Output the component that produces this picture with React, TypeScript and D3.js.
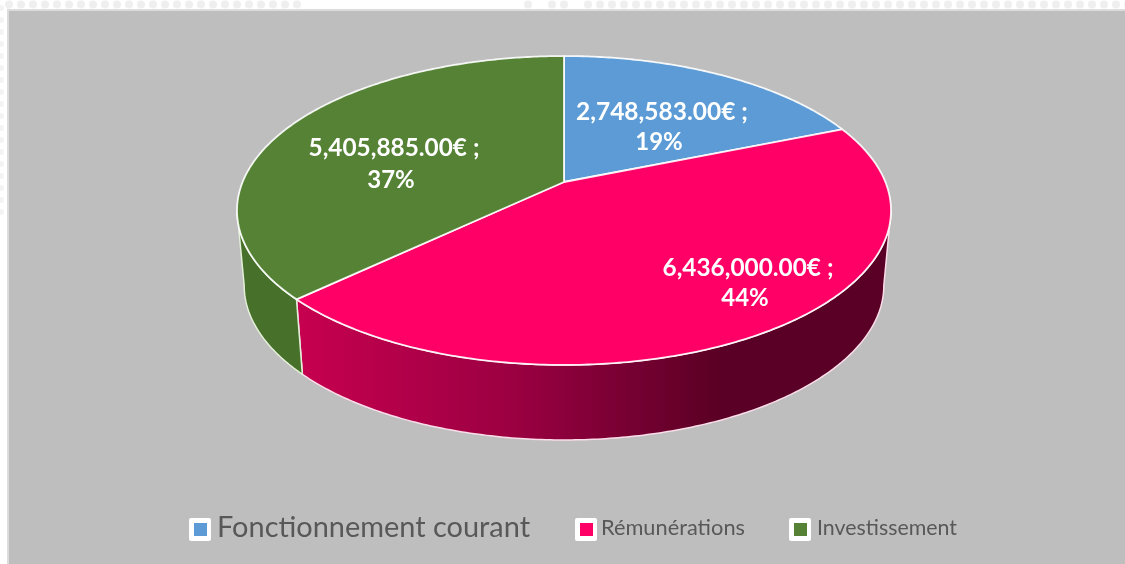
import React from "react";
import * as d3 from "d3";

const categories = ["Fonctionnement courant", "Rémunérations", "Investissement"];
const values = [2748583, 6436000, 5405885];
const percentLabels = ["19%", "44%", "37%"];
const colors = ["#5b9bd5", "#ff0066", "#548235"];
const legendText = [
  { x: 217, w: 313, size: 28, y: 537 },
  { x: 601, w: 144, size: 20.5, y: 535 },
  { x: 817, w: 140, size: 20.5, y: 535 },
];
const legendBox = [189, 575, 789];
const labelPos = [
  { x: 662, y: 120, w: 172, px: 659, py: 150 },
  { x: 748, y: 276, w: 171, px: 745, py: 306 },
  { x: 394, y: 156, w: 171, px: 391, py: 188 },
];
const topDots = [
  ...d3.range(9, 300, 12),
  528, 552, 564,
  ...d3.range(588, 1130, 12),
];
const leftDots = d3.range(8, 216, 12);

const W = 1125, H = 564;
const cx = 564, cy = 182;
const K = -0.1845, A = 149.2, C = 321.4;
const DEPTH = 75, SHRINK = 0.978;

const fmt = d3.format(",.2f");

function topPt(t: number): [number, number] {
  const x = Math.sin(t), y = -Math.cos(t);
  const d = 1 + K * y;
  return [cx + (C * x) / d, cy + (A * y) / d];
}
function botPt(t: number): [number, number] {
  const [x, y] = topPt(t);
  return [cx + (x - cx) * SHRINK, y + DEPTH];
}

const TWO_PI = Math.PI * 2;
const arcs = d3.pie<number>().sort(null).startAngle(0).endAngle(TWO_PI)(values);
const line = d3.line<[number, number]>();

function samples(a: number, b: number) {
  const n = Math.max(2, Math.ceil(Math.abs(b - a) * 90));
  return d3.range(n + 1).map((i) => a + ((b - a) * i) / n);
}
function slicePath(a: number, b: number) {
  return line([[cx, cy], ...samples(a, b).map(topPt)]) + "Z";
}
function sidePath(a: number, b: number) {
  const ts = samples(a, b);
  return line([...ts.map(topPt), ...ts.slice().reverse().map(botPt)]) + "Z";
}

// angle at which the rim reaches its horizontal extremes
const tangent = Math.acos(K);
const rightT = tangent;
const leftT = TWO_PI - tangent;

const sides = [
  { a: Math.max(arcs[1].startAngle, rightT), b: arcs[1].endAngle, fill: "url(#pinkSide)", stroke: "#fbdde9" },
  { a: arcs[2].startAngle, b: leftT, fill: "#47712a", stroke: "#e4efda" },
];

export default function App() {
  return (
    <svg
      width={W}
      height={H}
      viewBox={`0 0 ${W} ${H}`}
      style={{ position: "absolute", left: 0, top: 0, display: "block", background: "#fff" }}
    >
      <defs>
        <linearGradient id="pinkSide" gradientUnits="userSpaceOnUse" x1={300} x2={720} y1={0} y2={0}>
          <stop offset="0" stopColor="#c6004f" />
          <stop offset="0.5" stopColor="#9c0042" />
          <stop offset="1" stopColor="#5a0025" />
        </linearGradient>
        <filter id="soft" x="-5%" y="-5%" width="110%" height="110%">
          <feGaussianBlur stdDeviation="0.7" />
        </filter>
      </defs>
      <g filter="url(#soft)">
        {topDots.map((x, i) => (
          <circle key={i} cx={x} cy={4.5} r={4} fill="#efefef" />
        ))}
        {leftDots.map((y, i) => (
          <circle key={i} cx={1} cy={y} r={3} fill="#f3f3f3" />
        ))}
        <rect x={7} y={9} width={W} height={H} fill="#dcdcdc" />
        <rect x={9} y={11} width={W} height={H} fill="#bebebe" />

        {sides.map((s, i) => (
          <path key={i} d={sidePath(s.a, s.b)} fill={s.fill} stroke={s.stroke} strokeWidth={1.5} strokeLinejoin="round" />
        ))}
        {arcs.map((d, i) => (
          <path
            key={i}
            d={slicePath(d.startAngle, d.endAngle)}
            fill={colors[i]}
            stroke="#ffffff"
            strokeOpacity={0.9}
            strokeWidth={1.8}
            strokeLinejoin="round"
          />
        ))}

        {arcs.map((d, i) => (
          <text
            key={i}
            textAnchor="middle"
            fontFamily="Lato, 'Open Sans', sans-serif"
            fontWeight={700}
            fontSize={24}
            fill="#ffffff"
          >
            <tspan x={labelPos[i].x} y={labelPos[i].y} textLength={labelPos[i].w} lengthAdjust="spacingAndGlyphs">
              {`${fmt(d.value)}€ ;`}
            </tspan>
            <tspan x={labelPos[i].px} y={labelPos[i].py}>
              {percentLabels[i]}
            </tspan>
          </text>
        ))}

        {categories.map((c, i) => (
          <g key={c}>
            <rect x={legendBox[i]} y={518} width={22} height={23} rx={2} fill="#ffffff" />
            <rect x={legendBox[i] + 5} y={523} width={13} height={13} fill={colors[i]} />
            <text
              x={legendText[i].x}
              y={legendText[i].y}
              fontFamily="Lato, 'Open Sans', sans-serif"
              fontSize={legendText[i].size}
              fill="#595959"
              textLength={legendText[i].w}
              lengthAdjust="spacingAndGlyphs"
            >
              {c}
            </text>
          </g>
        ))}
      </g>
    </svg>
  );
}
